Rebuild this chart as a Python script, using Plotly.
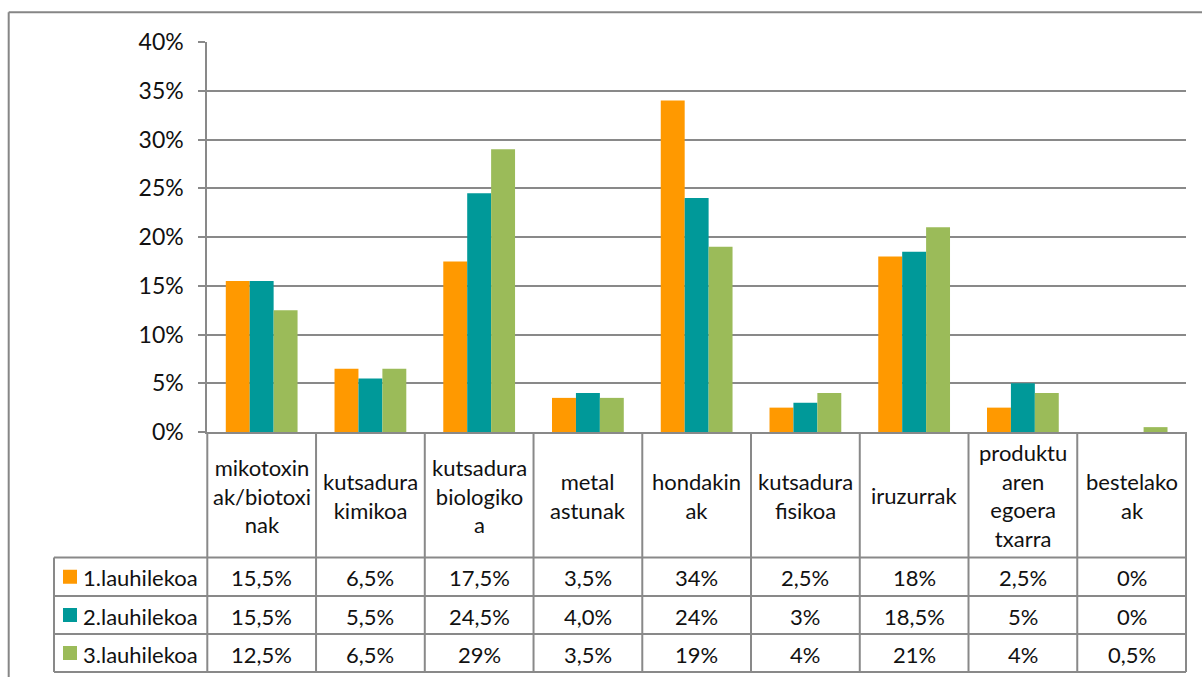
import plotly.graph_objects as go

categories = ["mikotoxin<br>ak/biotoxi<br>nak", "kutsadura<br>kimikoa", "kutsadura<br>biologiko<br>a",
              "metal<br>astunak", "hondakin<br>ak", "kutsadura<br>fisikoa", "iruzurrak",
              "produktu<br>aren<br>egoera<br>txarra", "bestelako<br>ak"]
series_names = ["1.lauhilekoa", "2.lauhilekoa", "3.lauhilekoa"]
q1 = [15.5, 6.5, 17.5, 3.5, 34, 2.5, 18, 2.5, 0]
q2 = [15.5, 5.5, 24.5, 4.0, 24, 3, 18.5, 5, 0]
q3 = [12.5, 6.5, 29, 3.5, 19, 4, 21, 4, 0.5]
q1_text = ["15,5%", "6,5%", "17,5%", "3,5%", "34%", "2,5%", "18%", "2,5%", "0%"]
q2_text = ["15,5%", "5,5%", "24,5%", "4,0%", "24%", "3%", "18,5%", "5%", "0%"]
q3_text = ["12,5%", "6,5%", "29%", "3,5%", "19%", "4%", "21%", "4%", "0,5%"]
y_ticks = [0, 5, 10, 15, 20, 25, 30, 35, 40]
y_tick_labels = ["0%", "5%", "10%", "15%", "20%", "25%", "30%", "35%", "40%"]

colors = ["#FF9900", "#009999", "#9BBB59"]
values = [q1, q2, q3]
texts = [q1_text, q2_text, q3_text]

W, H = 1202, 677
GRAY = "#898989"
FONT = "Lato"
TXT = "#111111"
FS = 22


def px(x):
    return x / W


def py(y):
    return 1 - y / H


X0, X1 = 207.3, 1186.0
Y0, Y1 = 432.0, 42.0
cw = (X1 - X0) / len(categories)
row_lines = [557.5, 596.0, 634.0, 672.0]
TL = 54.0

fig = go.Figure()
for name, vals, col in zip(series_names, values, colors):
    fig.add_trace(go.Bar(x=list(range(len(categories))), y=vals, name=name,
                         marker=dict(color=col, line=dict(width=0))))

shapes = []
# outer chart border
shapes.append(dict(type="line", xref="paper", yref="paper", x0=px(8.7), x1=px(8.7), y0=py(12.3), y1=py(700),
                   line=dict(color="#868686", width=2)))
shapes.append(dict(type="line", xref="paper", yref="paper", x0=px(8.7), x1=px(1220), y0=py(12.3), y1=py(12.3),
                   line=dict(color="#868686", width=2)))
# table vertical lines
for i in range(len(categories) + 1):
    xx = X0 + i * cw
    shapes.append(dict(type="line", xref="paper", yref="paper", x0=px(xx), x1=px(xx), y0=py(Y0), y1=py(row_lines[-1]),
                       line=dict(color=GRAY, width=2)))
# table horizontal lines
for yy in row_lines:
    shapes.append(dict(type="line", xref="paper", yref="paper", x0=px(TL), x1=px(X1), y0=py(yy), y1=py(yy),
                       line=dict(color=GRAY, width=2)))
shapes.append(dict(type="line", xref="paper", yref="paper", x0=px(TL), x1=px(TL), y0=py(row_lines[0]), y1=py(row_lines[-1]),
                   line=dict(color=GRAY, width=2)))

annotations = []
# header labels
hc = (Y0 + row_lines[0]) / 2
for i, c in enumerate(categories):
    annotations.append(dict(xref="paper", yref="paper", x=px(X0 + (i + 0.5) * cw), y=py(hc + 1),
                            text=c, showarrow=False, xanchor="center", yanchor="middle",
                            font=dict(family=FONT, size=FS, color=TXT), align="center"))
# rows
for r in range(3):
    yc = (row_lines[r] + row_lines[r + 1]) / 2
    shapes.append(dict(type="rect", xref="paper", yref="paper", x0=px(63), x1=px(77), y0=py(yc - 7), y1=py(yc + 7),
                       fillcolor=colors[r], line=dict(width=0)))
    annotations.append(dict(xref="paper", yref="paper", x=px(81), y=py(yc + 1), text=series_names[r],
                            showarrow=False, xanchor="left", yanchor="middle",
                            font=dict(family=FONT, size=FS, color=TXT)))
    for i, t in enumerate(texts[r]):
        annotations.append(dict(xref="paper", yref="paper", x=px(X0 + (i + 0.5) * cw), y=py(yc + 1),
                                text=t, showarrow=False, xanchor="center", yanchor="middle",
                                font=dict(family=FONT, size=FS, color=TXT)))

fig.update_layout(
    width=W, height=H, margin=dict(l=0, r=0, t=0, b=0, autoexpand=False),
    paper_bgcolor="white", plot_bgcolor="white",
    barmode="group", bargap=0.34, bargroupgap=0,
    showlegend=False,
    font=dict(family=FONT, color=TXT),
    xaxis=dict(domain=[px(X0), px(X1)], range=[-0.5, len(categories) - 0.5],
               showticklabels=False, showgrid=False, zeroline=False, automargin=False,
               showline=True, linecolor=GRAY, linewidth=2, ticks=""),
    yaxis=dict(domain=[py(Y0), py(Y1)], range=[0, 40], tickvals=y_ticks, ticktext=y_tick_labels,
               showgrid=True, gridcolor=GRAY, gridwidth=2, zeroline=False, automargin=False,
               showline=True, linecolor=GRAY, linewidth=2,
               ticks="outside", ticklen=7, tickcolor=GRAY, tickwidth=2,
               ticklabelstandoff=10,
               tickfont=dict(family=FONT, size=23, color=TXT)),
    shapes=shapes, annotations=annotations,
)

fig.write_html("out.html", config={"displayModeBar": False},
               post_script="document.body.style.margin='0';document.body.style.padding='0';"
                           "document.body.style.overflow='hidden';")
